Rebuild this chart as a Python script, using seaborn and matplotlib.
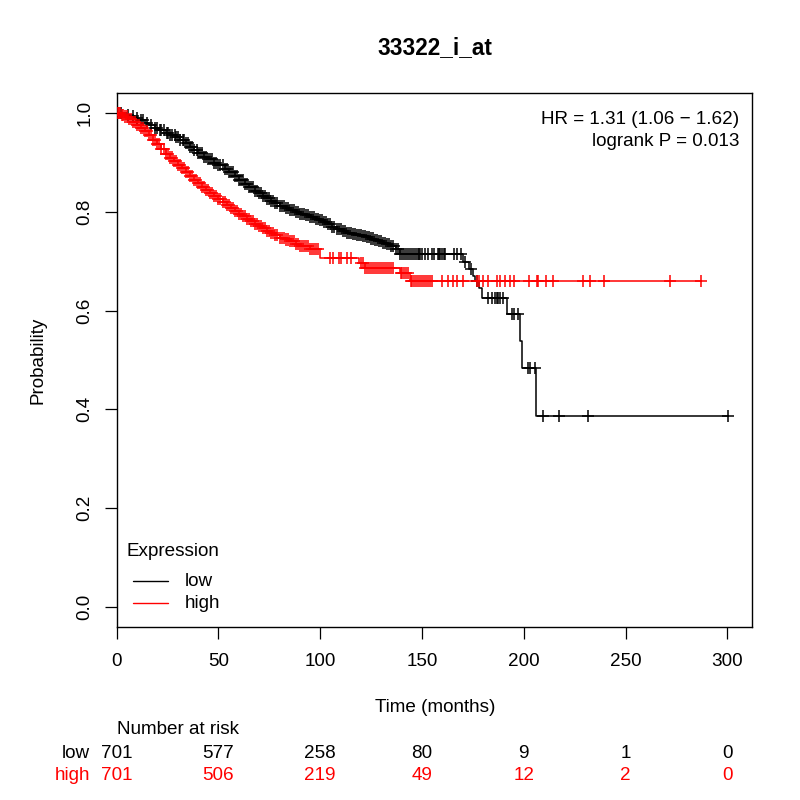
import numpy as np
import pandas as pd
import matplotlib
matplotlib.use("Agg")
import matplotlib.pyplot as plt
from matplotlib.lines import Line2D
from matplotlib.transforms import blended_transform_factory
import seaborn as sns

# ---------------- data ----------------
title = "33322_i_at"
group_names = ["low", "high"]
group_colors = ["black", "red"]

low_event_times = [3, 6, 9, 11, 14, 16, 19, 21, 24, 26, 29, 31, 34, 36, 38, 40, 43, 45, 48, 50,
                   53, 55, 58, 60, 63, 65, 68, 70, 72, 74, 76, 78, 80, 83, 85, 88, 90, 93, 95, 98,
                   100, 102, 104, 106, 108, 111, 113, 116, 118, 121, 123, 125, 127, 129, 131, 133,
                   135, 137, 139, 170, 173, 175, 176, 178, 179.5, 192, 198, 199, 206]
low_surv = [0.997, 0.994, 0.99, 0.986, 0.98, 0.975, 0.969, 0.965, 0.96, 0.956, 0.951, 0.946, 0.94,
            0.932, 0.925, 0.92, 0.912, 0.906, 0.899, 0.894, 0.887, 0.88, 0.872, 0.865, 0.857,
            0.851, 0.843, 0.838, 0.832, 0.827, 0.822, 0.817, 0.812, 0.808, 0.804, 0.8, 0.796,
            0.793, 0.79, 0.786, 0.783, 0.779, 0.775, 0.77, 0.765, 0.761, 0.758, 0.756, 0.754,
            0.751, 0.749, 0.746, 0.743, 0.74, 0.737, 0.734, 0.73, 0.724, 0.714, 0.699, 0.684,
            0.67, 0.66, 0.646, 0.626, 0.593, 0.539, 0.484, 0.387]
low_censor_times = [2, 5.5, 8, 10, 12, 13, 15, 17, 19, 20, 21.5, 22, 23, 24.5, 25, 26, 27, 28.5,
                    29, 30, 31, 32.5, 33, 34, 35, 36, 37, 38, 39.5, 40, 41, 42, 43, 44, 45, 46,
                    47, 48, 49, 50, 51, 52, 53, 54, 55, 56, 57, 58, 59, 60, 61, 62, 63, 64, 65,
                    66, 67, 68, 69, 70, 71, 72, 73, 74, 75, 76, 77, 78, 79, 80, 81, 82, 83, 84,
                    85, 86, 87, 88, 89, 90, 91, 92, 93, 94, 95, 96, 97, 98, 99, 100, 101, 102,
                    103, 104, 105, 106, 107, 108, 109, 110, 111, 112, 113, 114, 115, 116, 117,
                    118, 119, 120, 121, 122, 123, 124, 125, 126, 127, 128, 129, 130, 131, 132,
                    133, 134, 135, 136, 137, 138, 139, 140, 141, 142, 143, 144, 145, 146, 147,
                    148, 148.5, 149, 150, 151.5, 153, 155, 156, 158, 158.5, 159, 160, 161, 161.5,
                    165.5, 167, 169, 171, 174, 177, 182.5, 184.6, 186, 187, 187.5, 188.5, 190,
                    194.3, 195, 197, 202, 203, 205.7, 209.6, 217.5, 231.7, 300.5]

high_event_times = [2, 4, 6, 8, 10, 12, 14, 16, 18, 20, 22, 24, 26, 28, 30, 32, 34, 36, 38, 40,
                    42, 44, 46, 48, 50, 52, 54, 56, 58, 60, 62, 64, 66, 68, 70, 72, 74, 76, 78, 80,
                    83, 85, 88, 90, 95, 100, 119, 122, 139, 144]
high_surv = [0.997, 0.993, 0.988, 0.982, 0.976, 0.97, 0.963, 0.955, 0.946, 0.937, 0.928, 0.918,
             0.91, 0.902, 0.895, 0.888, 0.88, 0.872, 0.865, 0.858, 0.851, 0.845, 0.838, 0.832,
             0.826, 0.82, 0.813, 0.807, 0.801, 0.796, 0.791, 0.786, 0.781, 0.776, 0.771, 0.767,
             0.762, 0.758, 0.753, 0.748, 0.744, 0.74, 0.735, 0.731, 0.725, 0.707, 0.696, 0.686,
             0.676, 0.659]
high_censor_times = [0.5, 1, 1.5, 2.5, 3, 4, 5, 6, 7, 8, 9, 10, 11, 12, 13, 14, 15, 16, 17, 18,
                     19, 20, 21, 22, 23, 24, 25, 26, 27, 28, 29, 30, 31, 32, 33, 34, 35, 36, 37,
                     38, 39, 40, 41, 42, 43, 44, 45, 46, 47, 48, 49, 50, 51, 52, 53, 54, 55, 56,
                     57, 58, 59, 60, 61, 62, 63, 64, 65, 66, 67, 68, 69, 70, 71, 72, 73, 74, 75,
                     76, 77, 78, 79, 80, 81, 82, 83, 84, 85, 86, 87, 88, 89, 90, 91, 92, 93, 94,
                     95, 96, 97, 98, 99, 105, 106.5, 109, 110, 113, 115, 120, 121, 122, 123, 124,
                     125, 126, 127, 128, 129, 130, 131, 132, 133, 134, 135, 136, 139.5, 140, 141,
                     142, 143, 144.5, 145, 146, 147, 148, 149, 150, 151, 152, 153, 154, 155, 160,
                     163, 165, 167, 170, 177, 178, 180, 182.5, 187, 188.5, 191, 193.4, 195.3, 202.7,
                     206.6, 207, 211, 214.5, 229.3, 232.7, 239.6, 272, 287.3]

risk_times = [0, 50, 100, 150, 200, 250, 300]
low_at_risk = [701, 577, 258, 80, 9, 1, 0]
high_at_risk = [701, 506, 219, 49, 12, 2, 0]

hr_text = "HR = 1.31 (1.06 \u2212 1.62)"
p_text = "logrank P = 0.013"
legend_title = "Expression"
x_label = "Time (months)"
y_label = "Probability"
x_ticks = [0, 50, 100, 150, 200, 250, 300]
y_ticks = [0.0, 0.2, 0.4, 0.6, 0.8, 1.0]

# ---------------- tables ----------------
def step_frame(name, ev_t, ev_s, cens):
    end = max(max(cens), max(ev_t))
    t = [0.0] + list(ev_t) + [end]
    s = [1.0] + list(ev_s) + [ev_s[-1]]
    return pd.DataFrame({"time": t, "surv": s, "group": name})

def censor_frame(name, ev_t, ev_s, cens):
    t = np.array([0.0] + list(ev_t))
    s = np.array([1.0] + list(ev_s))
    idx = np.searchsorted(t, np.array(cens), side="right") - 1
    return pd.DataFrame({"time": cens, "surv": s[idx], "group": name})

steps = pd.concat([step_frame("low", low_event_times, low_surv, low_censor_times),
                   step_frame("high", high_event_times, high_surv, high_censor_times)])
cens = pd.concat([censor_frame("low", low_event_times, low_surv, low_censor_times),
                  censor_frame("high", high_event_times, high_surv, high_censor_times)])
palette = dict(zip(group_names, group_colors))

# ---------------- style ----------------
sns.set_style("white")
plt.rcParams["font.family"] = ["Liberation Sans", "DejaVu Sans"]
plt.rcParams["text.color"] = "black"
plt.rcParams["axes.labelcolor"] = "black"
plt.rcParams["xtick.color"] = "black"
plt.rcParams["ytick.color"] = "black"
FS = 13.6

fig = plt.figure(figsize=(8, 8), dpi=100)
W = H = 800.0
def fx(px): return px / W
def fy(py): return 1 - py / H

ax = fig.add_axes([fx(116.7), fy(626.7), (751.7 - 116.7) / W, (626.7 - 93.3) / H])

sns.lineplot(data=steps, x="time", y="surv", hue="group", palette=palette,
             drawstyle="steps-post", estimator=None, sort=False, legend=False,
             linewidth=1.1, ax=ax)
sns.scatterplot(data=cens, x="time", y="surv", hue="group", palette=palette,
                marker="+", s=75, linewidth=1.1, legend=False, ax=ax, zorder=3)

ax.set_xlim(0, 312)
ax.set_ylim(-0.04, 1.04)
ax.set_xticks(x_ticks)
ax.set_xticklabels([str(v) for v in x_ticks])
ax.set_yticks(y_ticks)
ax.set_yticklabels([f"{v:.1f}" for v in y_ticks], rotation=90, va="center")
ax.tick_params(axis="both", which="major", bottom=True, left=True, direction="out",
               length=8.6, width=0.9, color="black", labelsize=FS, labelcolor="black")
ax.tick_params(axis="x", pad=10)
ax.tick_params(axis="y", pad=8)
ax.set_xlabel("")
ax.set_ylabel("")
for sp in ax.spines.values():
    sp.set_visible(True)
    sp.set_color("black")
    sp.set_linewidth(1.0)

# title and axis labels
fig.text(fx(435), fy(48), title, ha="center", va="center", fontsize=16.3, fontweight="bold",
         color="black")
fig.text(fx(435), fy(707), x_label, ha="center", va="center", fontsize=FS)
fig.text(fx(38), fy(360), y_label, ha="center", va="center", fontsize=FS, rotation=90)

# HR annotation
fig.text(fx(739), fy(120), hr_text, ha="right", va="center", fontsize=FS)
fig.text(fx(739), fy(142), p_text, ha="right", va="center", fontsize=FS)

# legend
fig.text(fx(126.7), fy(552), legend_title, ha="left", va="center", fontsize=FS)
for name, col, py in zip(group_names, group_colors, [581, 603]):
    fig.add_artist(Line2D([fx(133), fx(168)], [fy(py), fy(py)], color=col, lw=1.0,
                          transform=fig.transFigure))
    fig.text(fx(185), fy(py), name, ha="left", va="center", fontsize=FS)

# number at risk table
fig.text(fx(117), fy(730), "Number at risk", ha="left", va="center", fontsize=FS)
trans = blended_transform_factory(ax.transData, fig.transFigure)
for name, col, vals, py in zip(group_names, group_colors, [low_at_risk, high_at_risk], [753, 775]):
    fig.text(fx(90), fy(py), name, ha="right", va="center", fontsize=FS, color=col)
    for t, v in zip(risk_times, vals):
        ax.text(t, fy(py), str(v), transform=trans, ha="center", va="center",
                fontsize=FS, color=col, clip_on=False)

fig.savefig("out.png", dpi=100, facecolor="white")
